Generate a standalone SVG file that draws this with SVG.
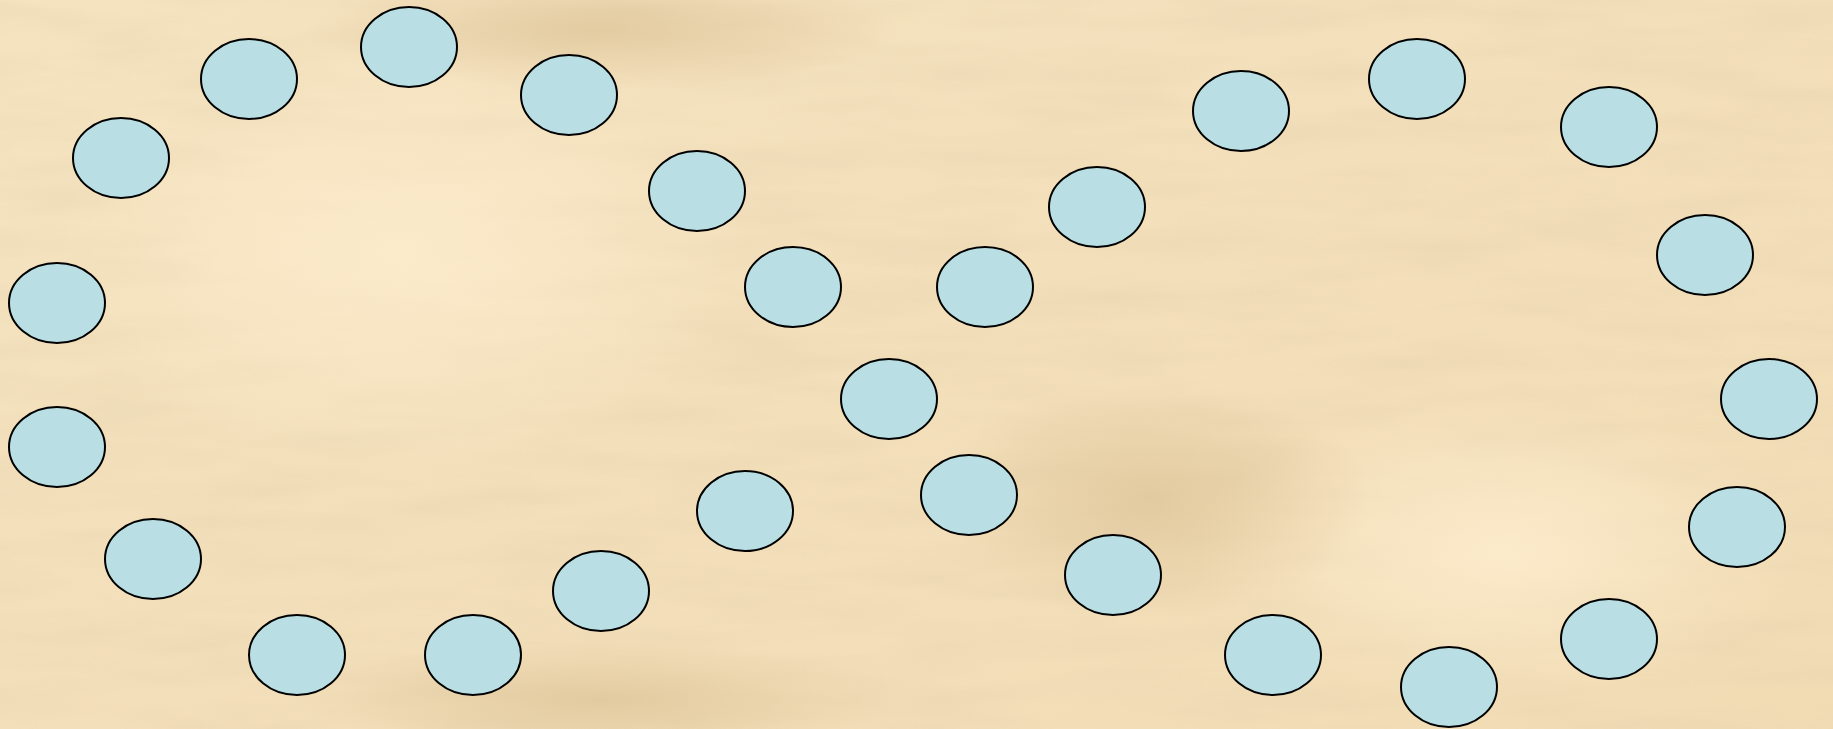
<svg xmlns="http://www.w3.org/2000/svg" width="1833" height="729" viewBox="0 0 1833 729">
<defs>
<style>
.node ellipse{fill:#b9dfe4;stroke:#000;stroke-width:2}
</style>
<linearGradient id="bg" x1="0" y1="0" x2="1" y2="1">
<stop offset="0" stop-color="#f5e3c0"/>
<stop offset="0.5" stop-color="#f3dfba"/>
<stop offset="1" stop-color="#f1dcb4"/>
</linearGradient>
<radialGradient id="lt" cx="0.5" cy="0.5" r="0.5">
<stop offset="0" stop-color="#fdeccd" stop-opacity="0.9"/>
<stop offset="1" stop-color="#fdeccd" stop-opacity="0"/>
</radialGradient>
<radialGradient id="dk" cx="0.5" cy="0.5" r="0.5">
<stop offset="0" stop-color="#dcc296" stop-opacity="0.7"/>
<stop offset="1" stop-color="#dcc296" stop-opacity="0"/>
</radialGradient>
<filter id="tex" x="0" y="0" width="100%" height="100%">
<feTurbulence type="fractalNoise" baseFrequency="0.006 0.035" numOctaves="3" seed="7" result="n"/>
<feColorMatrix in="n" type="matrix" values="0 0 0 0 0.78  0 0 0 0 0.64  0 0 0 0 0.42  0 0 0 -1.6 1.0" result="c"/>
<feComposite in="c" in2="SourceGraphic" operator="in"/>
</filter>
</defs>
<g id="background">
<rect width="1833" height="729" fill="url(#bg)"/>
<rect width="1833" height="729" fill="#fff" filter="url(#tex)" opacity="0.45"/>
<ellipse cx="400" cy="250" rx="350" ry="220" fill="url(#lt)"/>
<ellipse cx="1500" cy="550" rx="300" ry="150" fill="url(#lt)"/>
<ellipse cx="1150" cy="500" rx="220" ry="120" fill="url(#dk)"/>
<ellipse cx="600" cy="30" rx="300" ry="60" fill="url(#dk)"/>
<ellipse cx="600" cy="700" rx="300" ry="60" fill="url(#dk)"/>
</g>
<g id="connectors"></g>
<g id="nodes">
<g id="n1" class="node"><ellipse cx="249" cy="79" rx="48" ry="40"/></g>
<g id="n2" class="node"><ellipse cx="409" cy="47" rx="48" ry="40"/></g>
<g id="n3" class="node"><ellipse cx="569" cy="95" rx="48" ry="40"/></g>
<g id="n4" class="node"><ellipse cx="121" cy="158" rx="48" ry="40"/></g>
<g id="n5" class="node"><ellipse cx="697" cy="191" rx="48" ry="40"/></g>
<g id="n6" class="node"><ellipse cx="57" cy="303" rx="48" ry="40"/></g>
<g id="n7" class="node"><ellipse cx="793" cy="287" rx="48" ry="40"/></g>
<g id="n8" class="node"><ellipse cx="57" cy="447" rx="48" ry="40"/></g>
<g id="n9" class="node"><ellipse cx="889" cy="399" rx="48" ry="40"/></g>
<g id="n10" class="node"><ellipse cx="153" cy="559" rx="48" ry="40"/></g>
<g id="n11" class="node"><ellipse cx="745" cy="511" rx="48" ry="40"/></g>
<g id="n12" class="node"><ellipse cx="297" cy="655" rx="48" ry="40"/></g>
<g id="n13" class="node"><ellipse cx="473" cy="655" rx="48" ry="40"/></g>
<g id="n14" class="node"><ellipse cx="601" cy="591" rx="48" ry="40"/></g>
<g id="n15" class="node"><ellipse cx="969" cy="495" rx="48" ry="40"/></g>
<g id="n16" class="node"><ellipse cx="985" cy="287" rx="48" ry="40"/></g>
<g id="n17" class="node"><ellipse cx="1097" cy="207" rx="48" ry="40"/></g>
<g id="n18" class="node"><ellipse cx="1241" cy="111" rx="48" ry="40"/></g>
<g id="n19" class="node"><ellipse cx="1417" cy="79" rx="48" ry="40"/></g>
<g id="n20" class="node"><ellipse cx="1609" cy="127" rx="48" ry="40"/></g>
<g id="n21" class="node"><ellipse cx="1705" cy="255" rx="48" ry="40"/></g>
<g id="n22" class="node"><ellipse cx="1769" cy="399" rx="48" ry="40"/></g>
<g id="n23" class="node"><ellipse cx="1737" cy="527" rx="48" ry="40"/></g>
<g id="n24" class="node"><ellipse cx="1609" cy="639" rx="48" ry="40"/></g>
<g id="n25" class="node"><ellipse cx="1449" cy="687" rx="48" ry="40"/></g>
<g id="n26" class="node"><ellipse cx="1273" cy="655" rx="48" ry="40"/></g>
<g id="n27" class="node"><ellipse cx="1113" cy="575" rx="48" ry="40"/></g>
</g>
</svg>
